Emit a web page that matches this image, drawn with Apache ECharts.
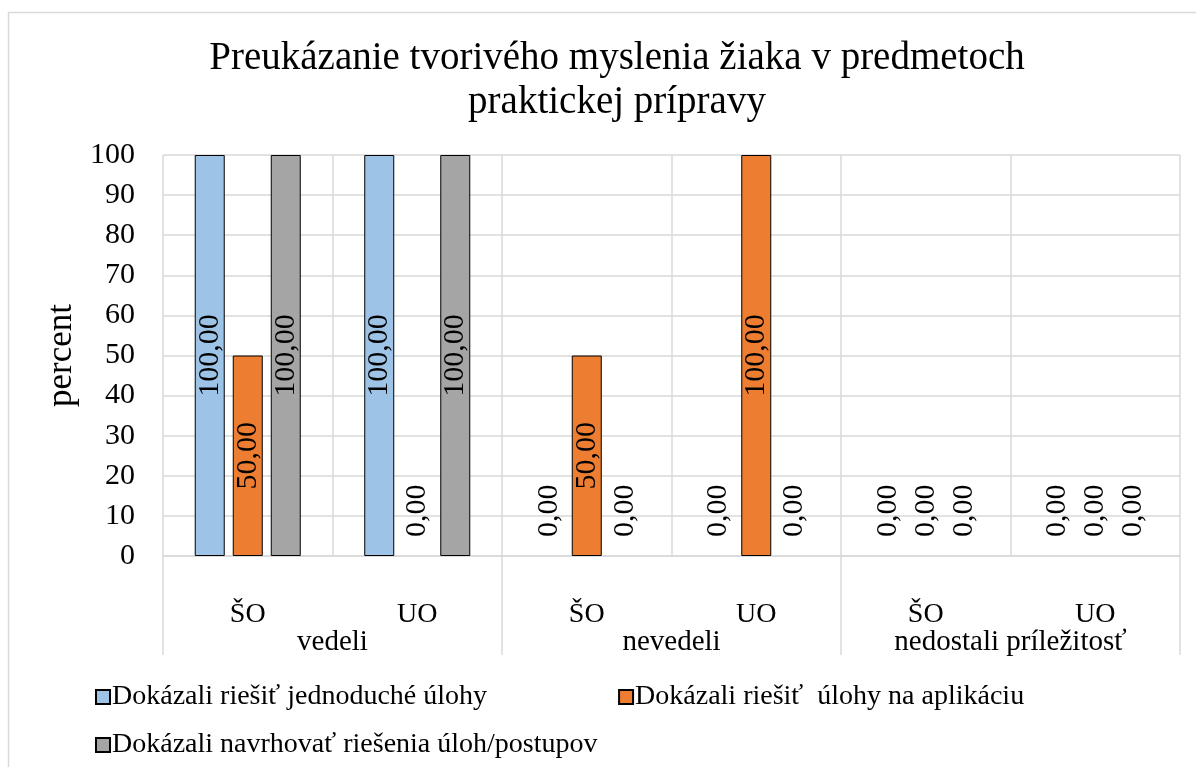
<!DOCTYPE html>
<html>
<head>
<meta charset="utf-8">
<script src="https://cdn.jsdelivr.net/npm/echarts@6/dist/echarts.min.js"></script>
<style>
html,body{margin:0;padding:0;background:#fff;}
#chart{width:1196px;height:767px;}
</style>
</head>
<body>
<div id="chart"></div>
<script>
var titleText = 'Preukázanie tvorivého myslenia žiaka v predmetoch\npraktickej prípravy';
var subCategories = ['ŠO', 'UO', 'ŠO', 'UO', 'ŠO', 'UO'];
var groupCategories = ['vedeli', 'nevedeli', 'nedostali príležitosť'];
var seriesNames = ['Dokázali riešiť jednoduché úlohy', 'Dokázali riešiť  úlohy na aplikáciu', 'Dokázali navrhovať riešenia úloh/postupov'];
var valuesSimple = [100, 100, 0, 0, 0, 0];
var valuesApplication = [50, 0, 50, 100, 0, 0];
var valuesDesign = [100, 100, 0, 0, 0, 0];
var seriesColors = ['#9DC3E6', '#ED7D31', '#A5A5A5'];
var yAxisName = 'percent';

var FONT = 'Liberation Serif';
var GRID = '#d9d9d9';

function fmt(v) { return v.toFixed(2).replace('.', ','); }

function buildData(vals) {
  return vals.map(function (v) {
    if (v === 0) {
      return {
        value: v,
        itemStyle: { borderWidth: 0 },
        label: { position: 'top', distance: 19, align: 'left', verticalAlign: 'middle' }
      };
    }
    return { value: v };
  });
}

var allValues = [valuesSimple, valuesApplication, valuesDesign];
var series = allValues.map(function (vals, i) {
  return {
    name: seriesNames[i],
    type: 'bar',
    xAxisIndex: 0,
    barWidth: 30,
    barGap: '26.7%',
    itemStyle: { color: seriesColors[i], borderColor: '#000', borderWidth: 1 },
    label: {
      show: true,
      position: 'inside',
      rotate: 90,
      fontFamily: FONT,
      fontSize: 30,
      color: '#000',
      formatter: function (p) { return fmt(p.value); }
    },
    data: buildData(vals)
  };
});

var chart = echarts.init(document.getElementById('chart'));
chart.setOption({
  animation: false,
  backgroundColor: '#fff',
  graphic: [{
    type: 'rect', shape: { x: 8.5, y: 12.5, width: 1300, height: 900 },
    style: { fill: 'none', stroke: GRID, lineWidth: 1.5 }, silent: true, z: -10
  }],
  title: {
    text: titleText,
    left: 612,
    textAlign: 'center',
    top: 32,
    textStyle: { fontFamily: FONT, fontSize: 39, fontWeight: 'normal', color: '#000', lineHeight: 44 }
  },
  legend: [{
    data: seriesNames.slice(0, 2),
    left: 90, top: 678,
    itemWidth: 14, itemHeight: 14, itemGap: 131,
    icon: 'rect',
    textStyle: { fontFamily: FONT, fontSize: 28, color: '#000', padding: [0, 0, 0, -3] }
  }, {
    data: seriesNames.slice(2),
    left: 90, top: 726,
    itemWidth: 14, itemHeight: 14,
    icon: 'rect',
    textStyle: { fontFamily: FONT, fontSize: 28, color: '#000', padding: [0, 0, 0, -3] }
  }],
  grid: { left: 163, right: 16, top: 155, bottom: 211, containLabel: false },
  xAxis: [{
    type: 'category',
    data: subCategories,
    axisLine: { show: true, lineStyle: { color: GRID, width: 1.5 } },
    axisTick: { show: false },
    splitLine: { show: true, lineStyle: { color: GRID, width: 1.5 } },
    axisLabel: { interval: 0, margin: 45, fontFamily: FONT, fontSize: 28, color: '#000' }
  }, {
    type: 'category',
    position: 'bottom',
    data: groupCategories,
    axisLine: { show: false },
    axisTick: { show: true, length: 99, lineStyle: { color: GRID, width: 1.5 } },
    splitLine: { show: false },
    axisLabel: { interval: 0, margin: 72, fontFamily: FONT, fontSize: 29, color: '#000' }
  }],
  yAxis: {
    type: 'value',
    min: 0, max: 100, interval: 10,
    name: yAxisName,
    nameLocation: 'middle',
    nameGap: 80,
    nameRotate: 90,
    nameTextStyle: { fontFamily: FONT, fontSize: 35, color: '#000' },
    axisLine: { show: false },
    axisTick: { show: false },
    splitLine: { show: true, lineStyle: { color: GRID, width: 1.5 } },
    axisLabel: { margin: 28, fontFamily: FONT, fontSize: 30, color: '#000' }
  },
  series: series
});
</script>
</body>
</html>
